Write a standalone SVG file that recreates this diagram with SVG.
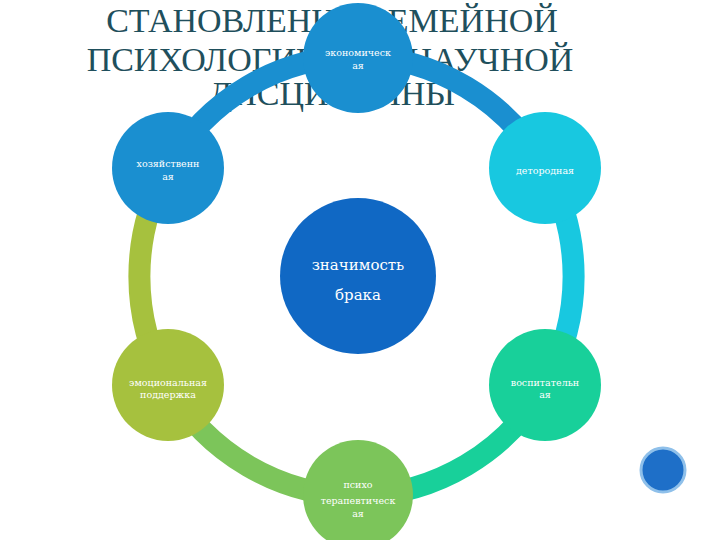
<svg xmlns="http://www.w3.org/2000/svg" width="720" height="540" viewBox="0 0 720 540">
<style>
.t{font-family:"Liberation Serif",serif;font-size:34px;fill:#1f4f5c;text-anchor:middle}
.n{font-family:"DejaVu Serif","Liberation Serif",serif;font-size:9.5px;fill:#fff;text-anchor:middle}
.arc{fill:none;stroke-width:22}
</style>
<rect width="720" height="540" fill="#fff"/>
<text class="t" x="332" y="32">СТАНОВЛЕНИЕ СЕМЕЙНОЙ</text>
<text class="t" x="330" y="71">ПСИХОЛОГИИ КАК НАУЧНОЙ</text>
<text class="t" x="332" y="105">ДИСЦИПЛИНЫ</text>
<g id="connectors">
<path class="arc" stroke="#1a8fd0" d="M168,168 A220,220 0 0 1 358,56"/>
<path class="arc" stroke="#1a8fd0" d="M358,56 A220,220 0 0 1 545,168"/>
<path class="arc" stroke="#18c8e0" d="M545,168 A220,220 0 0 1 545,385"/>
<path class="arc" stroke="#18d09a" d="M545,385 A220,220 0 0 1 358,496"/>
<path class="arc" stroke="#7cc55a" d="M358,496 A220,220 0 0 1 168,385"/>
<path class="arc" stroke="#a6c13e" d="M168,385 A220,220 0 0 1 168,168"/>
</g>
<g id="center"><circle cx="358" cy="276" r="78" fill="#1068c4"/>
<text class="n" style="font-size:15px" x="358" y="270">значимость</text>
<text class="n" style="font-size:15px" x="358" y="300">брака</text></g>
<g id="n1"><circle cx="358" cy="58" r="55" fill="#1a8fd0"/>
<text class="n" x="358" y="56">экономическ</text><text class="n" x="358" y="69">ая</text></g>
<g id="n2"><circle cx="168" cy="168" r="56" fill="#1a8fd0"/>
<text class="n" x="168" y="167">хозяйственн</text><text class="n" x="168" y="180">ая</text></g>
<g id="n3"><circle cx="545" cy="168" r="56" fill="#18c8e0"/>
<text class="n" x="545" y="174">детородная</text></g>
<g id="n4"><circle cx="168" cy="385" r="56" fill="#a6c13e"/>
<text class="n" x="168" y="386">эмоциональная</text><text class="n" x="168" y="398">поддержка</text></g>
<g id="n5"><circle cx="545" cy="385" r="56" fill="#18d09a"/>
<text class="n" x="545" y="386">воспитательн</text><text class="n" x="545" y="398">ая</text></g>
<g id="n6"><circle cx="358" cy="495" r="55" fill="#7cc55a"/>
<text class="n" x="358" y="488">психо</text><text class="n" x="358" y="504">терапевтическ</text><text class="n" x="358" y="517">ая</text></g>
<circle cx="663" cy="470" r="22" fill="#1e6fc8" stroke="#8fc0ea" stroke-width="3"/>
</svg>
